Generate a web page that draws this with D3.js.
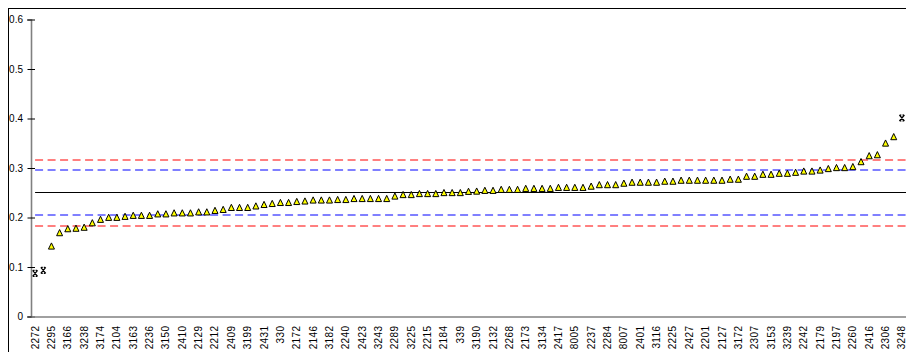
<!DOCTYPE html>
<html>
<head>
<meta charset="utf-8">
<script src="https://cdn.jsdelivr.net/npm/d3@7"></script>
<style>
  html, body { margin: 0; padding: 0; background: #fff; }
  svg { display: block; font-family: Arial, "Liberation Sans", sans-serif; }
</style>
</head>
<body>
<svg id="chart" width="906" height="352"></svg>
<script>
// Category labels (every other point is labelled)
const tickLabels = ["2272","2295","3166","3238","3174","2104","3163","2236","3150","2410",
  "2129","2212","2409","3199","2431","330","2172","2146","3182","2240",
  "2423","3243","2289","3225","2215","2184","339","3190","2132","2268",
  "2173","3134","2417","8005","2237","2284","8007","2401","3116","2225",
  "2427","2201","2127","3172","2307","3153","3239","2242","2179","2197",
  "2260","2416","2306","3248"];

// Sorted values, one per point
const values = [0.087,0.093,0.141,0.168,0.176,0.177,0.179,0.188,0.195,0.199,
  0.199,0.201,0.203,0.203,0.203,0.206,0.206,0.208,0.208,0.208,
  0.210,0.210,0.213,0.215,0.219,0.219,0.219,0.222,0.225,0.227,
  0.229,0.229,0.231,0.232,0.234,0.234,0.234,0.235,0.235,0.237,
  0.237,0.237,0.237,0.237,0.242,0.245,0.245,0.247,0.247,0.247,
  0.249,0.249,0.249,0.2515,0.252,0.2535,0.2535,0.2555,0.2555,0.2555,
  0.2575,0.2575,0.2575,0.2575,0.2595,0.2595,0.2595,0.2595,0.262,0.265,
  0.265,0.265,0.268,0.270,0.270,0.270,0.270,0.272,0.272,0.274,
  0.274,0.274,0.274,0.274,0.274,0.276,0.276,0.282,0.282,0.286,
  0.286,0.288,0.288,0.290,0.2925,0.2925,0.2945,0.2975,0.2995,0.2995,
  0.3015,0.3115,0.3235,0.3255,0.349,0.362,0.401];

// Indices of excluded points (drawn with X marker)
const excludedIdx = [0, 1, 106];

// Reference lines
const centerLine = 0.25;
const innerLimits = [0.2045, 0.2955];
const outerLimits = [0.183, 0.317];

const yTicks = [0, 0.1, 0.2, 0.3, 0.4, 0.5, 0.6];

const svg = d3.select("#chart");

// outer frame
svg.append("rect").attr("x", 8.5).attr("y", 8.5).attr("width", 1000).attr("height", 1000)
  .attr("fill", "none").attr("stroke", "#000").attr("stroke-width", 1);

const x = d3.scaleBand().domain(d3.range(values.length)).range([31, 906]).padding(0);
const y = d3.scaleLinear().domain([0, 0.6]).range([316.5, 19.5]);
const cx = i => x(i) + x.bandwidth() / 2;
const soft = v => Math.round(y(v));

const xStart = cx(0), xEnd = 906;

// reference lines
function hline(v, color, dash, w, pos) {
  svg.append("line").attr("x1", xStart).attr("x2", xEnd)
    .attr("y1", pos(v)).attr("y2", pos(v))
    .attr("stroke", color).attr("stroke-width", w)
    .attr("stroke-dasharray", dash);
}
outerLimits.forEach(v => hline(v, "#ff0000", "8,4.5", 1, soft));
innerLimits.forEach(v => hline(v, "#0000ff", "8,4.5", 1, soft));
hline(centerLine, "#000", null, 1, v => Math.floor(y(v)) + 0.5);

// y axis
const yAxis = svg.append("g").attr("transform", "translate(31,0)")
  .call(d3.axisLeft(y).tickValues(yTicks).tickSize(4).tickPadding(4)
    .tickFormat(d => d === 0 ? "0" : d3.format(".1f")(d)));
yAxis.select(".domain").attr("stroke", "#808080").attr("stroke-width", 1.6);
yAxis.selectAll(".tick line").attr("x1", -3.5).attr("x2", 4).attr("stroke", "#000");
yAxis.selectAll(".tick text").attr("font-size", 10).attr("fill", "#000")
  .attr("font-family", "Arial, 'Liberation Sans', sans-serif");

// x axis
const xAxis = svg.append("g").attr("transform", "translate(0,316.5)")
  .call(d3.axisBottom(x)
    .tickValues(d3.range(0, values.length, 2))
    .tickSize(0)
    .tickFormat(i => tickLabels[i / 2]));
xAxis.select(".domain").attr("stroke", "#808080").attr("stroke-width", 1.6);
xAxis.selectAll(".tick text")
  .attr("font-size", 10).attr("fill", "#000")
  .attr("font-family", "Arial, 'Liberation Sans', sans-serif")
  .attr("letter-spacing", 0.4)
  .attr("transform", "rotate(-90)")
  .attr("x", -9).attr("y", 0).attr("dy", "0.35em")
  .style("text-anchor", "end");

// markers
const tri = "M0,-3.8L3,2.4L-3,2.4Z";
const xMark = "M-2.5,-3L2.5,3M2.5,-3L-2.5,3M-2,-3L-0.5,-3M0.5,-3L2,-3M-2,3L-0.5,3M0.5,3L2,3";

const pts = values.map((v, i) => ({ i, v, ex: excludedIdx.includes(i) }));

svg.append("g").selectAll("path").data(pts.filter(d => !d.ex)).join("path")
  .attr("d", tri)
  .attr("transform", d => `translate(${cx(d.i)},${y(d.v)})`)
  .attr("fill", "#ffff00").attr("stroke", "#000").attr("stroke-width", 1)
  .attr("stroke-linejoin", "miter");

svg.append("g").selectAll("path").data(pts.filter(d => d.ex)).join("path")
  .attr("d", xMark)
  .attr("transform", d => `translate(${cx(d.i)},${y(d.v)})`)
  .attr("fill", "none").attr("stroke", "#000").attr("stroke-width", 1.2);
</script>
</body>
</html>
